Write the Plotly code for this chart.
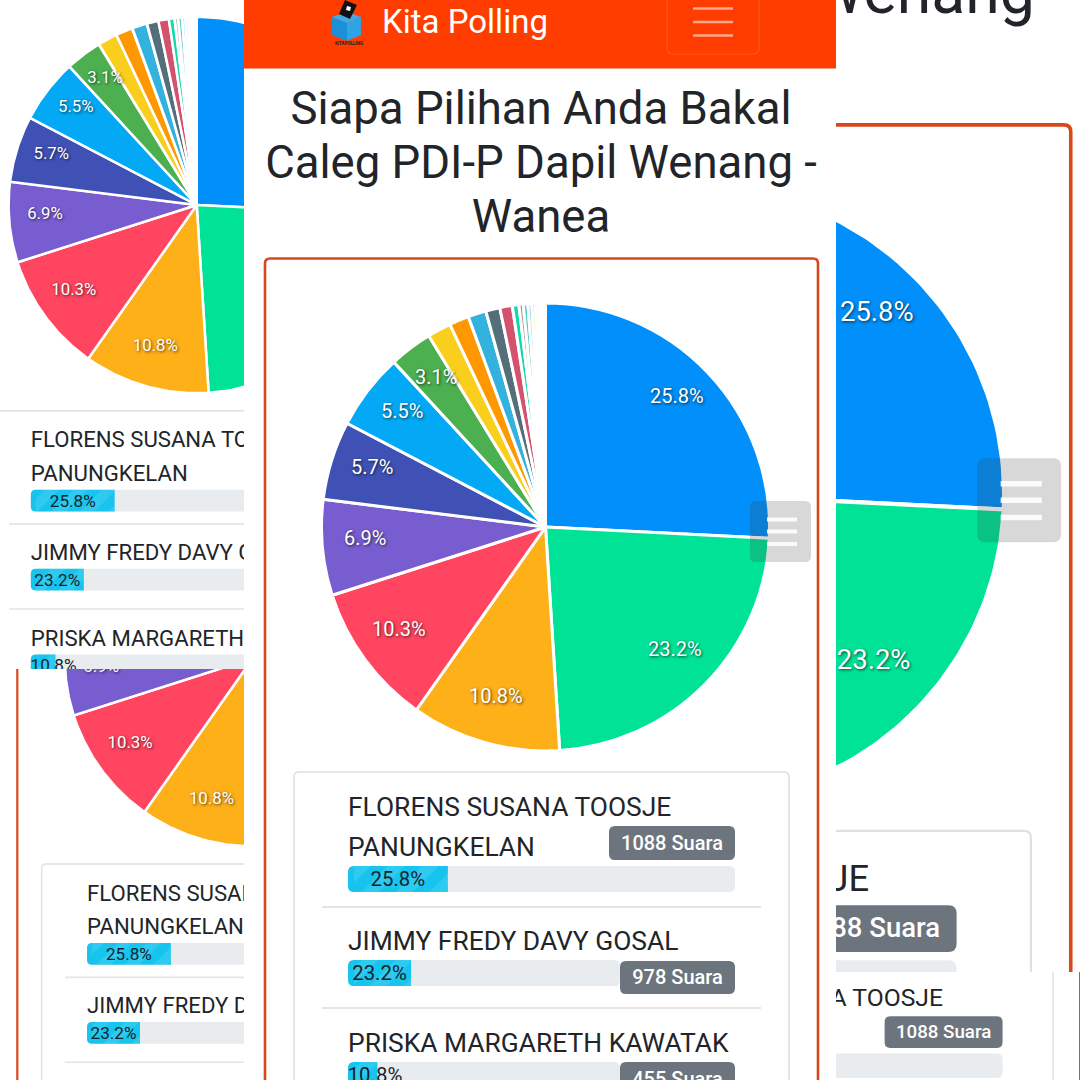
import numpy as np
import plotly.graph_objects as go

# Poll results
votes = [1088, 978, 455, 434, 291, 240, 232, 131, 72, 60, 55, 43, 38, 20, 13, 14, 12, 11, 10, 8, 7, 5]
colors = ["#008FFB", "#00E396", "#FEB019", "#FF4560", "#775DD0", "#3F51B5", "#03A9F4", "#4CAF50",
          "#F9CE1D", "#FF9800", "#33B2DF", "#546E7A", "#D4526E", "#13D8AA", "#A5978B", "#4ECDC4",
          "#81D4FA", "#C7F464", "#A5D6E8", "#D7E36B", "#E4E4C8", "#D5E8F0"]
candidates = [["FLORENS SUSANA TOOSJE", "PANUNGKELAN"], ["JIMMY FREDY DAVY GOSAL"], ["PRISKA MARGARETH KAWATAK"]]
badge_text = ["1088 Suara", "978 Suara", "455 Suara"]
title_lines = ["Siapa Pilihan Anda Bakal", "Caleg PDI-P Dapil Wenang -", "Wanea"]

total = sum(votes)
shares = [v / total for v in votes]
FONT = "Roboto"
INK = "#212529"
ORANGE = "#D9481C"
LABEL_SHADOW = "1px 1px 3px rgba(0,0,0,.7)"

fig = go.Figure()
shapes = []
notes = []
axis_count = 0


def rounded(x0, y0, x1, y1, r, left=True, right=True):
    rl = r if left else 0
    rr = r if right else 0
    return (f"M{x0 + rl},{y0} L{x1 - rr},{y0} Q{x1},{y0} {x1},{y0 + rr} L{x1},{y1 - rr} Q{x1},{y1} {x1 - rr},{y1} "
            f"L{x0 + rl},{y1} Q{x0},{y1} {x0},{y1 - rl} L{x0},{y0 + rl} Q{x0},{y0} {x0 + rl},{y0} Z")


class Panel:
    """One cropped phone capture: a pixel-ranged subplot that clips all of its marks."""

    def __init__(self, x0, y0, x1, y1, s, dx, dy):
        global axis_count
        axis_count += 1
        self.n = axis_count
        self.box = (x0, y0, x1, y1)
        self.s, self.dx, self.dy = s, dx, dy
        suffix = "" if self.n == 1 else str(self.n)
        self.xref, self.yref = "x" + suffix, "y" + suffix
        axis = dict(visible=False, fixedrange=True, showgrid=False, zeroline=False)
        fig.layout["xaxis" + suffix] = dict(axis, domain=[x0 / 1080, x1 / 1080], range=[x0, x1],
                                            anchor=self.yref)
        fig.layout["yaxis" + suffix] = dict(axis, domain=[1 - y1 / 1080, 1 - y0 / 1080], range=[y1, y0],
                                            anchor=self.xref)

    def X(self, x):
        return x * self.s + self.dx

    def Y(self, y):
        return y * self.s + self.dy

    def path(self, x0, y0, x1, y1, r=0, fill=None, line=None, lw=0, layer="below", left=True, right=True):
        shapes.append(dict(type="path", xref=self.xref, yref=self.yref, layer=layer,
                           path=rounded(self.X(x0), self.Y(y0), self.X(x1), self.Y(y1), r * self.s, left, right),
                           fillcolor=fill or "rgba(0,0,0,0)",
                           line=dict(color=line or "rgba(0,0,0,0)", width=lw * self.s)))

    def polygon(self, d, fill):
        shapes.append(dict(type="path", xref=self.xref, yref=self.yref, layer="below", path=d,
                           fillcolor=fill, line=dict(width=0)))

    def text(self, x, y, label, size, color=INK, pos="middle center", weight=400, shadow=None):
        font = dict(family=FONT, size=size * self.s, color=color, weight=weight)
        if shadow:
            font["shadow"] = shadow
        fig.add_trace(go.Scatter(x=[self.X(x)], y=[self.Y(y)], text=[label], mode="text", textposition=pos,
                                 textfont=font, hoverinfo="skip", showlegend=False,
                                 xaxis=self.xref, yaxis=self.yref))

    def pie(self, cx, cy, radius):
        cum = 0.0
        cxp, cyp, rp = self.X(cx), self.Y(cy), radius * self.s
        for share, color in zip(shares, colors):
            t = np.linspace(cum, cum + share, 60) * 2 * np.pi
            xs = np.r_[cxp, cxp + rp * np.sin(t), cxp]
            ys = np.r_[cyp, cyp - rp * np.cos(t), cyp]
            fig.add_trace(go.Scatter(x=xs, y=ys, mode="lines", fill="toself", fillcolor=color,
                                     line=dict(color="white", width=3 * self.s), hoverinfo="skip",
                                     showlegend=False, xaxis=self.xref, yaxis=self.yref))
            cum += share

    def pie_labels(self, cx, cy, radius):
        for px, py, label in label_spots(cx, cy, radius):
            self.text(px, py, label, 20, "white", shadow=LABEL_SHADOW)

    def frame(self):
        self.path(265, 258.5, 818, 1600, 5, line=ORANGE, lw=2.6)
        self.path(294, 772, 789, 1600, 5, line="#DEE0E2", lw=1.6)
        self.path(322, 906, 761, 908, line=None, fill="#E4E5E6")
        self.path(322, 1007, 761, 1009, line=None, fill="#E4E5E6")

    def rows(self):
        layout = [
            dict(name_y=[809, 849], top=866, track=387, badge=(609, 826, 735, 860)),
            dict(name_y=[943], top=960, track=272, badge=(620, 961, 735, 994)),
            dict(name_y=[1045], top=1062, track=272, badge=(620, 1062, 735, 1096)),
        ]
        for i, row in enumerate(layout):
            left = 348
            top, bottom = row["top"], row["top"] + 26
            fill_w = shares[i] * row["track"]
            self.path(left, top, left + row["track"], bottom, 6, fill="#E9ECEF")
            self.path(left, top, left + fill_w, bottom, 6, fill="#17C4EE", right=False)
            fig.add_trace(go.Bar(x=[(fill_w - 6) * self.s], base=[self.X(left + 6)], y=[self.Y((top + bottom) / 2)],
                                 width=[26 * self.s], orientation="h",
                                 marker=dict(color="rgba(0,0,0,0)", line=dict(width=0),
                                             pattern=dict(shape="/", fgcolor="rgba(255,255,255,.2)",
                                                          bgcolor="rgba(0,0,0,0)", size=24 * self.s, solidity=0.5)),
                                 hoverinfo="skip", showlegend=False, xaxis=self.xref, yaxis=self.yref))
            bx0, by0, bx1, by1 = row["badge"]
            self.path(bx0, by0, bx1, by1, 6, fill="#6C757D")
            self.text((bx0 + bx1) / 2, (by0 + by1) / 2 + 1.5, badge_text[i], 20, "white", weight=500)
            for line, y in zip(candidates[i], row["name_y"]):
                self.text(left, y, line, 26.4, pos="middle right")
            self.text(max(left + fill_w / 2, left + 27), (top + bottom) / 2 + 2, f"{100 * shares[i]:.1f}%", 20.4,
                      "#16242c")


def label_spots(cx, cy, radius):
    spots = []
    cum = 0.0
    for share in shares:
        mid = (cum + share / 2) * 2 * np.pi
        if share >= 0.03:
            spots.append((cx + 0.81 * radius * np.sin(mid), cy - 0.81 * radius * np.cos(mid) - 5.5,
                          f"{100 * share:.1f}%"))
        cum += share
    return spots


CX, CY, R = 545.5, 527, 224

# Capture at the upper left
upper_left = Panel(0, 0, 244, 669, 0.84, -261.5, -237.7)
upper_left.pie(CX, CY, R)
upper_left.frame()
upper_left.rows()
upper_left.pie_labels(CX, CY, R)

# Capture at the lower left
lower_left = Panel(0, 669, 244, 1080, 0.84, -205.3, 215.5)
lower_left.pie(CX, CY, R)
lower_left.frame()
lower_left.rows()
lower_left.pie_labels(CX, CY, R)

# Enlarged capture on the right
right = Panel(836, 0, 1080, 972, 1.375, -54, -230.6)
right.pie(CX, CY, R)
right.frame()
right.rows()
right.pie_labels(CX, CY, R)
right.text(792, 166, "Wenang", 45.5, pos="middle left")

# Small capture in the bottom right corner
corner = Panel(836, 972, 1080, 1080, 0.936, 314.6, 243)
corner.frame()
corner.rows()

# Central capture, the only one that shows the whole poll card
centre = Panel(244, 0, 836, 1080, 1, 0, 0)
centre.path(244, 0, 836, 68.5, fill="#FF3D00")
centre.frame()
centre.rows()
for line, y in zip(title_lines, [113, 167, 221]):
    centre.text(541, y, line, 45.5)
centre.text(382, 25, "Kita Polling", 33, "white", pos="middle right")

# Ballot box logo
centre.polygon("M332,17 L347,23 L347,41 L332,35 Z", "#1B8FD8")
centre.polygon("M347,23 L361,17 L361,35 L347,41 Z", "#2EA3E6")
centre.polygon("M332,17 L347,12 L361,17 L347,23 Z", "#3FAAEA")
centre.polygon("M345,0 L357,5 L350,19 L339,14 Z", "#111111")
centre.polygon("M347,6 L351,7 L350,11 L346,10 Z", "#FFFFFF")
centre.text(349, 43.5, "KITAPOLLING", 4.5, "#222222", weight=700)

# Navbar toggle
centre.path(667, -6, 759, 54, 6, line="rgba(255,255,255,.12)", lw=1.2)
for y in (8.5, 22, 35.5):
    centre.path(693, y - 1.2, 733, y + 1.2, fill="rgba(255,255,255,.55)")

fig.add_trace(go.Pie(values=votes, sort=False, direction="clockwise", rotation=0, textinfo="none",
                     hoverinfo="skip", showlegend=False,
                     marker=dict(colors=colors, line=dict(color="white", width=3)),
                     domain=dict(x=[(CX - R) / 1080, (CX + R) / 1080], y=[1 - (CY + R) / 1080, 1 - (CY - R) / 1080])))

for px, py, label in label_spots(CX, CY, R):
    notes.append(dict(x=px / 1080, y=1 - py / 1080, xref="paper", yref="paper", text=label, showarrow=False,
                      font=dict(family=FONT, size=20, color="white", shadow=LABEL_SHADOW)))


def floating_menu(panel):
    panel.path(750, 501, 811, 562, 6, fill="rgba(60,60,60,.2)", layer="above")
    for y in (519.5, 531.5, 544):
        panel.path(767, y - 2, 797, y + 2, fill="rgba(255,255,255,.88)", layer="above")


floating_menu(centre)
floating_menu(right)

fig.update_layout(width=1080, height=1080, autosize=False, margin=dict(l=0, r=0, t=0, b=0, pad=0),
                  paper_bgcolor="white", plot_bgcolor="white", barmode="overlay", showlegend=False,
                  shapes=shapes, annotations=notes, font=dict(family=FONT))
fig.write_html("out.html", config={"displayModeBar": False})
